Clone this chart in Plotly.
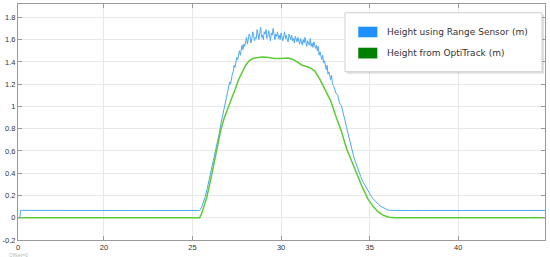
import plotly.graph_objects as go

# time (s) and height (m)
t_range = [15.25, 15.3, 15.4, 20.0, 25.0, 25.3,
           25.4, 25.5, 25.6, 25.7, 25.8, 25.9, 26.0, 26.1, 26.2, 26.3,
           26.4, 26.5, 26.6, 26.7, 26.8, 26.9,
           27.00, 27.05, 27.10, 27.15, 27.20, 27.25, 27.30, 27.35, 27.40, 27.45,
           27.50, 27.55, 27.60, 27.65, 27.70, 27.75, 27.80, 27.85, 27.90, 27.95,
           28.00, 28.05, 28.10, 28.15, 28.20, 28.25, 28.30, 28.35, 28.40, 28.45,
           28.50, 28.55, 28.60, 28.65, 28.70, 28.75, 28.80, 28.85, 28.90, 28.95,
           29.00, 29.05, 29.10, 29.15, 29.20, 29.25, 29.30, 29.35, 29.40, 29.45,
           29.50, 29.55, 29.60, 29.65, 29.70, 29.75, 29.80, 29.85, 29.90, 29.95,
           30.00, 30.05, 30.10, 30.15, 30.20, 30.25, 30.30, 30.35, 30.40, 30.45,
           30.50, 30.55, 30.60, 30.65, 30.70, 30.75, 30.80, 30.85, 30.90, 30.95,
           31.00, 31.05, 31.10, 31.15, 31.20, 31.25, 31.30, 31.35, 31.40, 31.45,
           31.50, 31.55, 31.60, 31.65, 31.70, 31.75, 31.80, 31.85, 31.90, 31.95,
           32.00, 32.05, 32.10, 32.15, 32.20, 32.25, 32.30, 32.35, 32.40, 32.45,
           32.50, 32.55, 32.60, 32.65, 32.70, 32.75, 32.80, 32.85, 32.90, 32.95,
           33.0, 33.1, 33.2, 33.3, 33.4, 33.5, 33.6, 33.7, 33.8, 33.9,
           34.0, 34.1, 34.2, 34.3, 34.4, 34.5, 34.6, 34.7, 34.8, 34.9,
           35.0, 35.1, 35.2, 35.3, 35.4, 35.5, 35.6, 35.7, 35.8, 35.9,
           36.0, 36.1, 36.2, 38.0, 42.0, 44.9]
h_range = [0.0, 0.065, 0.066, 0.064, 0.065, 0.064,
           0.065, 0.09, 0.13, 0.18, 0.24, 0.31, 0.38, 0.45, 0.53, 0.60,
           0.67, 0.75, 0.84, 0.92, 1.01, 1.07,
           1.16, 1.19, 1.22, 1.20, 1.27, 1.29, 1.31, 1.37, 1.35, 1.41,
           1.44, 1.42, 1.47, 1.50, 1.46, 1.52, 1.55, 1.51, 1.56, 1.54,
           1.58, 1.62, 1.56, 1.60, 1.65, 1.63, 1.57, 1.61, 1.67, 1.64,
           1.59, 1.62, 1.61, 1.69, 1.63, 1.60, 1.66, 1.71, 1.62, 1.64,
           1.60, 1.67, 1.65, 1.69, 1.61, 1.63, 1.68, 1.62, 1.59, 1.66,
           1.64, 1.70, 1.62, 1.60, 1.65, 1.63, 1.67, 1.61, 1.64, 1.60,
           1.66, 1.62, 1.59, 1.63, 1.67, 1.61, 1.64, 1.60, 1.58, 1.65,
           1.62, 1.60, 1.64, 1.59, 1.61, 1.57, 1.63, 1.60, 1.58, 1.62,
           1.59, 1.56, 1.61, 1.58, 1.55, 1.60, 1.57, 1.62, 1.56, 1.54,
           1.59, 1.57, 1.55, 1.61, 1.54, 1.57, 1.53, 1.58, 1.55, 1.52,
           1.55, 1.50, 1.54, 1.46, 1.49, 1.45, 1.42, 1.46, 1.39, 1.41,
           1.36, 1.33, 1.37, 1.29, 1.31, 1.27, 1.24, 1.28, 1.20, 1.19,
           1.17, 1.12, 1.10, 1.03, 1.01, 0.93, 0.88, 0.81, 0.74, 0.67,
           0.60, 0.55, 0.50, 0.45, 0.41, 0.37, 0.33, 0.30, 0.27, 0.24,
           0.21, 0.19, 0.17, 0.15, 0.135, 0.12, 0.105, 0.095, 0.085, 0.078,
           0.072, 0.068, 0.066, 0.065, 0.064, 0.065]

t_opti = [15.15, 25.4, 25.5, 25.6, 25.7, 25.8, 26.0, 26.2, 26.4, 26.6,
          26.8, 27.0, 27.2, 27.4, 27.6, 27.8, 28.0, 28.2, 28.4, 28.7,
          29.0, 29.3, 29.6, 30.0, 30.4, 30.7, 30.9, 31.2, 31.6, 31.9,
          32.2, 32.5, 32.8, 33.1, 33.4, 33.7, 34.0, 34.3, 34.6, 34.9,
          35.2, 35.5, 35.8, 36.1, 36.4, 44.9]
h_opti = [0.0, 0.0, 0.03, 0.08, 0.13, 0.18, 0.32, 0.47, 0.64, 0.79,
          0.90, 0.98, 1.06, 1.15, 1.24, 1.31, 1.37, 1.41, 1.43, 1.44,
          1.445, 1.44, 1.43, 1.43, 1.435, 1.42, 1.40, 1.37, 1.35, 1.32,
          1.24, 1.15, 1.05, 0.91, 0.78, 0.62, 0.50, 0.38, 0.27, 0.17,
          0.10, 0.05, 0.02, 0.005, 0.0, 0.0]

x_tick_vals = [15.15, 20, 25, 30, 35, 40]
x_tick_text = ["0", "20", "25", "30", "35", "40"]
y_tick_vals = [-0.2, 0, 0.2, 0.4, 0.6, 0.8, 1, 1.2, 1.4, 1.6, 1.8]
y_tick_text = ["-0.2", "0", "0.2", "0.4", "0.6", "0.8", "1", "1.2", "1.4", "1.6", "1.8"]

names = ["Height using Range Sensor (m)", "Height from OptiTrack (m)"]
legend_colors = ["#1e90ff", "#008000"]

fig = go.Figure()
fig.add_trace(go.Scatter(x=t_range, y=h_range, name=names[0], mode="lines",
                         line=dict(color="#4ea8f2", width=1), showlegend=False))
fig.add_trace(go.Scatter(x=t_opti, y=h_opti, name=names[1], mode="lines",
                         line=dict(color="#5ccb35", width=1.5), showlegend=False))

axis_kw = dict(
    showline=True, linecolor="#9a9a9a", linewidth=1, mirror="ticks",
    ticks="inside", ticklen=4, tickcolor="#9a9a9a",
    showgrid=True, gridcolor="#e8e8e8", zeroline=False, automargin=False,
    tickfont=dict(family="Liberation Sans", size=7.5, color="#333333"),
)

# legend drawn by hand so the swatches are wide rectangles like the scope's
shapes = [
    dict(type="rect", xref="paper", yref="paper", x0=0.624, x1=0.998,
         y0=0.7047, y1=0.9547, line=dict(width=0), fillcolor="rgba(0,0,0,0.12)"),
    dict(type="rect", xref="paper", yref="paper", x0=0.6205, x1=0.9943,
         y0=0.7131, y1=0.9631, line=dict(color="#d0d0d0", width=1), fillcolor="white"),
    dict(type="rect", xref="paper", yref="paper", x0=0.6457, x1=0.6818,
         y0=0.8589, y1=0.9038, line=dict(width=0), fillcolor=legend_colors[0]),
    dict(type="rect", xref="paper", yref="paper", x0=0.6457, x1=0.6818,
         y0=0.7691, y1=0.8148, line=dict(width=0), fillcolor=legend_colors[1]),
]
annotations = [
    dict(text=names[0], xref="paper", yref="paper", x=0.6964, y=0.8801,
         xanchor="left", yanchor="middle", showarrow=False,
         font=dict(family="DejaVu Sans", size=9, color="#333333")),
    dict(text=names[1], xref="paper", yref="paper", x=0.6964, y=0.7936,
         xanchor="left", yanchor="middle", showarrow=False,
         font=dict(family="DejaVu Sans", size=9, color="#333333")),
    dict(text="Offset=0", xref="paper", yref="paper", x=0.0, y=-0.064,
         xanchor="center", yanchor="middle", showarrow=False,
         font=dict(family="Liberation Sans", size=5, color="#bbbbbb")),
]

fig.update_layout(
    width=550, height=257,
    margin=dict(l=18, r=5, t=4, b=17),
    paper_bgcolor="white", plot_bgcolor="white",
    showlegend=False,
    xaxis=dict(range=[15.15, 44.9], tickvals=x_tick_vals, ticktext=x_tick_text, **axis_kw),
    yaxis=dict(range=[-0.2, 1.92], tickvals=y_tick_vals, ticktext=y_tick_text, **axis_kw),
    shapes=shapes,
    annotations=annotations,
)

# drop the page's default body margin so the figure sits at the window's corner
fig.write_html("out.html", config={"displayModeBar": False},
               post_script="document.body.style.margin='0';")
